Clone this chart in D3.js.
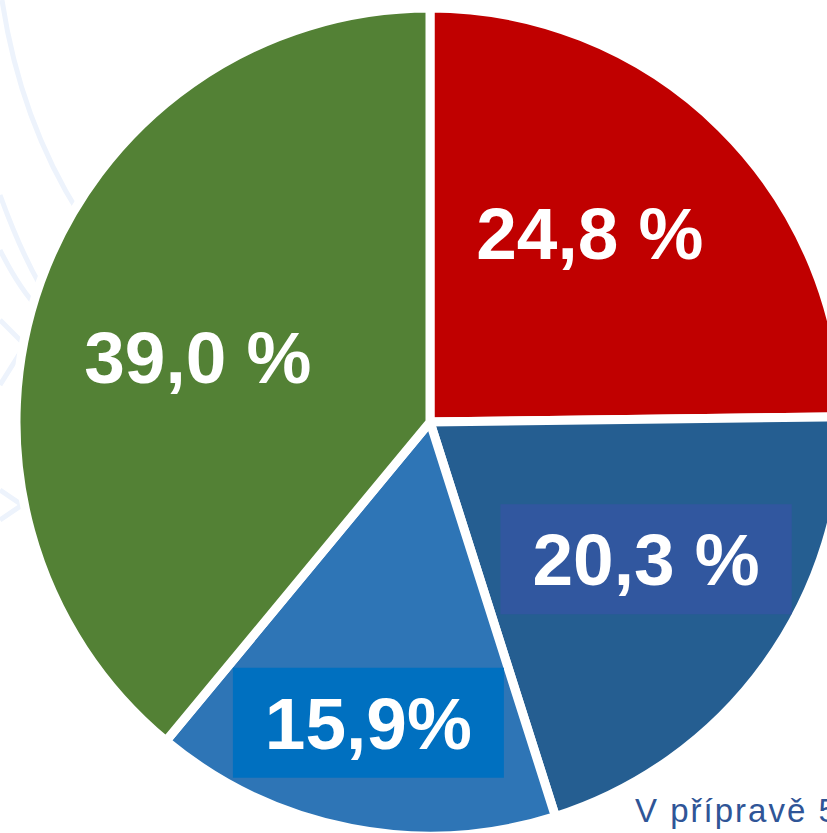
<!DOCTYPE html>
<html>
<head>
<meta charset="utf-8">
<script src="https://cdn.jsdelivr.net/npm/d3@7"></script>
<style>
  html, body { margin: 0; padding: 0; background: #fff; }
  svg { display: block; }
</style>
</head>
<body>
<svg id="canvas" width="827" height="833"></svg>
<script>
// slice data, clockwise from 12 o'clock
var shares = [24.8, 20.3, 15.9, 39.0];
var labels = ["24,8 %", "20,3 %", "15,9%", "39,0 %"];
var colors = ["#c00000", "#255e91", "#2e75b6", "#538135"];
var boxColors = [null, "#31579f", "#0070c0", null];

// label placement: radius from centre and angle shift (degrees) from slice middle
var labelPos = [
    { r: 248, shift: -4.5 },
    { r: 256, shift: -3.4 },
    { r: 307, shift: 0.6 },
    { r: 241, shift: -4.2 }
];

function drawChart() {
    "use strict";

    var svg = d3.select(document.getElementById('canvas'));
    var cx = 430, cy = 422, radius = 414;

    // faint decorative curves in the background
    var deco = svg.append('g')
        .attr('fill', 'none')
        .attr('stroke', '#edf3fc')
        .attr('stroke-width', 5);
    deco.append('path').attr('d', 'M2,0 Q20,120 80,215');
    deco.append('path').attr('d', 'M0,195 Q20,250 40,285');
    deco.append('path').attr('d', 'M0,250 Q20,290 40,310');
    deco.append('path').attr('d', 'M0,320 L25,345 L0,385');
    deco.append('path').attr('d', 'M0,490 L22,505 L0,520');

    var pie = d3.pie().sort(null).value(function(d) { return d; });
    var arcs = pie(shares);

    var arc = d3.arc().innerRadius(0).outerRadius(radius);

    var g = svg.append('g').attr('transform', 'translate(' + cx + ',' + cy + ')');

    g.selectAll('path.slice')
        .data(arcs)
        .enter().append('path')
        .attr('class', 'slice')
        .attr('d', arc)
        .attr('fill', function(d, i) { return colors[i]; })
        .attr('stroke', '#fff')
        .attr('stroke-width', 9)
        .attr('stroke-linejoin', 'miter');

    var fontSize = 73;
    var labelG = g.selectAll('g.label')
        .data(arcs)
        .enter().append('g')
        .attr('class', 'label')
        .attr('transform', function(d, i) {
            var a = (d.startAngle + d.endAngle) / 2 + labelPos[i].shift * Math.PI / 180;
            var x = Math.sin(a) * labelPos[i].r;
            var y = -Math.cos(a) * labelPos[i].r;
            return 'translate(' + x + ',' + y + ')';
        });

    labelG.each(function(d, i) {
        var sel = d3.select(this);
        var box = null;
        if (boxColors[i]) {
            box = sel.append('rect').attr('fill', boxColors[i]);
        }
        var t = sel.append('text')
            .attr('text-anchor', 'middle')
            .attr('y', fontSize * 0.716 / 2)
            .attr('fill', '#fff')
            .style('font-family', '"Liberation Sans", Arial, sans-serif')
            .style('font-weight', 'bold')
            .style('font-size', fontSize + 'px')
            .text(labels[i]);
        if (box) {
            var w = t.node().getComputedTextLength() + 64;
            var h = 110;
            box.attr('x', -w / 2).attr('y', -h / 2).attr('width', w).attr('height', h);
        }
    });

    svg.append('text')
        .attr('x', 635)
        .attr('y', 822)
        .attr('fill', '#2f5597')
        .style('font-family', '"Liberation Sans", Arial, sans-serif')
        .style('font-size', '33px')
        .style('letter-spacing', '2px')
        .text('V přípravě 5');
}

drawChart();
</script>
</body>
</html>
